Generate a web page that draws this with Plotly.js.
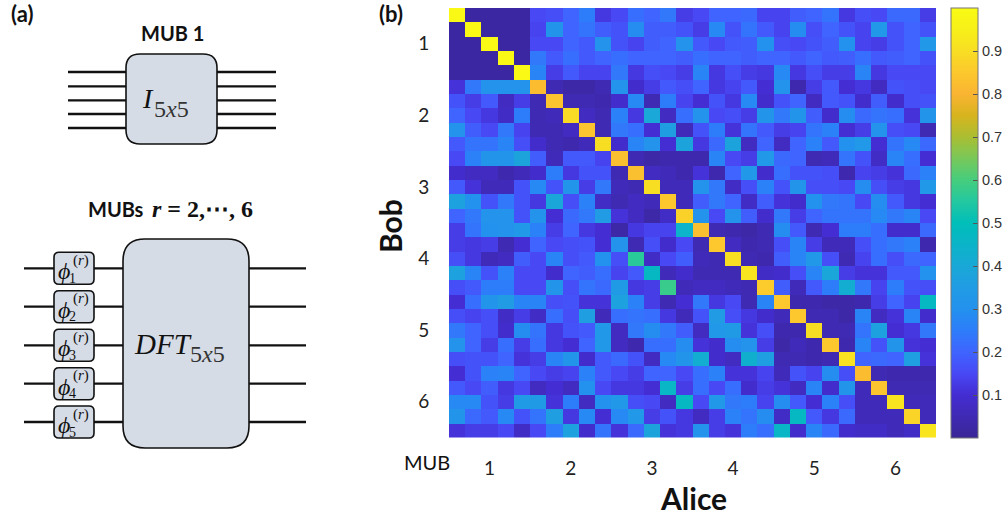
<!DOCTYPE html>
<html>
<head>
<meta charset="utf-8">
<script src="https://cdn.plot.ly/plotly-3.0.1.min.js"></script>
<style>html,body{margin:0;padding:0;background:#fff;overflow:hidden}</style>
</head>
<body>
<div id="chart" style="width:1008px;height:518px"></div>
<script>
const bases = Array.from({length:30},(_,i)=>i+1);
const mubTickVals = [3,8,13,18,23,28];
const mubTickText = ['1','2','3','4','5','6'];
const colorTickVals = [0.1,0.2,0.3,0.4,0.5,0.6,0.7,0.8,0.9];
const colorTickText = ['0.1','0.2','0.3','0.4','0.5','0.6','0.7','0.8','0.9'];

const row01=[.99,.02,.02,.02,.02,.15,.16,.2,.25,.12,.15,.22,.2,.24,.13,.15,.2,.2,.21,.14,.14,.19,.2,.23,.12,.16,.15,.21,.21,.13];
const row02=[.02,.99,.02,.02,.02,.14,.32,.2,.23,.19,.17,.29,.19,.19,.17,.13,.28,.17,.23,.18,.14,.29,.16,.2,.17,.14,.33,.17,.2,.17];
const row03=[.02,.02,.99,.02,.02,.15,.15,.2,.18,.31,.17,.14,.19,.2,.31,.18,.15,.18,.19,.3,.16,.15,.17,.19,.3,.14,.13,.17,.2,.33];
const row04=[.02,.02,.02,.99,.02,.24,.18,.22,.18,.2,.22,.2,.2,.2,.19,.22,.2,.2,.19,.2,.2,.18,.2,.18,.19,.22,.18,.19,.2,.17];
const row05=[.02,.02,.02,.02,.99,.27,.13,.18,.14,.14,.24,.12,.16,.15,.13,.27,.12,.16,.13,.12,.28,.12,.16,.13,.13,.27,.12,.15,.15,.15];
const row06=[.11,.24,.31,.31,.31,.82,.05,.03,.03,.05,.31,.09,.13,.18,.16,.2,.12,.14,.18,.1,.31,.04,.13,.18,.1,.12,.07,.17,.16,.15];
const row07=[.17,.13,.18,.07,.13,.05,.84,.05,.05,.04,.09,.28,.05,.25,.14,.1,.17,.12,.28,.09,.17,.2,.07,.18,.17,.09,.19,.09,.16,.17];
const row08=[.2,.15,.12,.08,.25,.05,.06,.89,.07,.05,.26,.12,.4,.07,.22,.31,.15,.16,.13,.32,.24,.32,.19,.09,.29,.21,.23,.22,.11,.32];
const row09=[.31,.19,.15,.24,.14,.05,.05,.07,.84,.05,.24,.22,.1,.36,.06,.17,.25,.11,.23,.18,.13,.14,.23,.26,.1,.13,.31,.16,.15,.05];
const row10=[.18,.23,.23,.27,.16,.09,.05,.04,.06,.9,.09,.27,.31,.1,.38,.12,.21,.38,.07,.2,.07,.2,.26,.18,.3,.33,.1,.23,.28,.21];
const row11=[.15,.26,.32,.32,.38,.19,.06,.18,.18,.14,.83,.05,.03,.04,.04,.04,.27,.15,.13,.33,.21,.2,.05,.06,.23,.17,.08,.27,.22,.1];
const row12=[.09,.07,.07,.04,.06,.09,.25,.12,.17,.17,.05,.83,.07,.06,.04,.11,.04,.2,.33,.09,.22,.17,.17,.16,.04,.14,.13,.11,.21,.26];
const row13=[.18,.11,.06,.06,.17,.28,.17,.32,.13,.24,.06,.05,.9,.06,.06,.31,.24,.08,.16,.26,.17,.32,.16,.16,.15,.29,.16,.13,.12,.33];
const row14=[.37,.3,.17,.24,.17,.12,.39,.16,.26,.08,.05,.07,.06,.85,.06,.19,.24,.2,.08,.19,.11,.09,.3,.24,.23,.15,.29,.18,.12,.1];
const row15=[.2,.24,.31,.31,.17,.31,.1,.21,.24,.35,.11,.07,.03,.08,.87,.31,.15,.31,.19,.09,.24,.13,.2,.23,.23,.23,.28,.24,.27,.15];
const row16=[.13,.23,.3,.31,.33,.26,.13,.2,.12,.1,.03,.12,.14,.14,.44,.83,.05,.04,.03,.05,.29,.18,.05,.1,.25,.25,.22,.09,.09,.21];
const row17=[.13,.12,.13,.05,.1,.2,.15,.16,.17,.1,.31,.05,.16,.09,.15,.05,.85,.07,.04,.05,.16,.27,.13,.06,.06,.16,.22,.24,.26,.04];
const row18=[.16,.12,.06,.07,.19,.15,.27,.16,.18,.3,.16,.56,.08,.15,.19,.06,.05,.9,.05,.04,.19,.27,.33,.16,.05,.14,.22,.16,.21,.2];
const row19=[.37,.27,.17,.26,.15,.15,.09,.2,.19,.22,.14,.18,.47,.06,.09,.05,.05,.05,.92,.08,.09,.16,.27,.39,.13,.11,.11,.18,.18,.3];
const row20=[.16,.18,.25,.25,.15,.15,.32,.16,.23,.21,.34,.12,.13,.58,.06,.07,.07,.06,.05,.86,.19,.06,.18,.25,.42,.24,.14,.25,.17,.16];
const row21=[.1,.22,.32,.35,.27,.27,.16,.17,.11,.11,.37,.26,.13,.05,.1,.24,.12,.15,.05,.27,.85,.04,.04,.03,.03,.04,.13,.2,.14,.47];
const row22=[.16,.14,.16,.08,.13,.08,.22,.16,.36,.06,.22,.23,.22,.12,.06,.17,.35,.16,.12,.09,.06,.85,.05,.05,.03,.27,.07,.11,.27,.09];
const row23=[.24,.2,.16,.09,.29,.23,.12,.17,.18,.33,.07,.24,.29,.24,.19,.07,.33,.34,.11,.16,.04,.04,.9,.05,.05,.23,.37,.1,.12,.24];
const row24=[.31,.2,.13,.22,.13,.22,.12,.1,.2,.33,.07,.04,.22,.22,.29,.11,.09,.29,.31,.13,.03,.06,.04,.85,.04,.27,.17,.32,.11,.1];
const row25=[.16,.17,.17,.2,.11,.13,.27,.32,.09,.18,.21,.17,.07,.28,.32,.42,.09,.07,.43,.36,.05,.05,.04,.05,.91,.2,.21,.2,.36,.11];
const row26=[.1,.17,.26,.27,.2,.15,.13,.14,.26,.18,.15,.13,.2,.2,.15,.22,.26,.11,.11,.14,.06,.17,.14,.29,.16,.82,.05,.04,.04,.04];
const row27=[.18,.15,.19,.12,.15,.07,.1,.07,.3,.15,.12,.12,.1,.46,.13,.22,.15,.22,.09,.13,.11,.07,.27,.09,.32,.06,.84,.05,.05,.05];
const row28=[.28,.28,.17,.13,.34,.34,.11,.25,.07,.3,.33,.16,.15,.07,.47,.15,.33,.24,.25,.14,.29,.18,.1,.26,.16,.06,.06,.92,.06,.06];
const row29=[.32,.21,.18,.28,.17,.23,.36,.12,.28,.1,.28,.33,.13,.17,.12,.07,.13,.26,.23,.29,.08,.47,.18,.12,.21,.06,.06,.06,.88,.06];
const row30=[.11,.13,.13,.15,.08,.15,.25,.37,.09,.23,.11,.21,.38,.11,.12,.31,.13,.11,.25,.22,.46,.09,.27,.21,.09,.08,.08,.06,.08,.92];

const overlap=[row01,row02,row03,row04,row05,row06,row07,row08,row09,row10,row11,row12,row13,row14,row15,
               row16,row17,row18,row19,row20,row21,row22,row23,row24,row25,row26,row27,row28,row29,row30];

const colourbarColours=[[0,'rgb(58,38,150)'],[0.1,'rgb(68,45,210)'],[0.15,'rgb(72,72,245)'],[0.2,'rgb(63,100,255)'],[0.25,'rgb(45,125,250)'],
[0.3,'rgb(35,145,238)'],[0.35,'rgb(33,156,228)'],[0.4,'rgb(25,168,215)'],[0.45,'rgb(10,180,200)'],[0.5,'rgb(0,190,185)'],
[0.55,'rgb(35,200,160)'],[0.6,'rgb(70,205,125)'],[0.65,'rgb(120,200,90)'],[0.7,'rgb(170,190,50)'],[0.75,'rgb(215,180,30)'],
[0.8,'rgb(250,180,50)'],[0.85,'rgb(252,200,45)'],[0.9,'rgb(248,222,35)'],[0.95,'rgb(247,240,25)'],[1,'rgb(249,251,20)']];

const W=1008,H=518;
const px=x=>x/W, py=y=>1-y/H;
const shapes=[],annotations=[];
function wire(x0,x1,y){shapes.push({type:'line',xref:'paper',yref:'paper',x0:px(x0),x1:px(x1),y0:py(y),y1:py(y),line:{color:'#111',width:2.3}});}
function box(x0,y0,x1,y1,r,w){
  const P=(x,y)=>px(x)+','+py(y);
  const path='M'+P(x0+r,y0)+' L'+P(x1-r,y0)+' Q'+P(x1,y0)+' '+P(x1,y0+r)+' L'+P(x1,y1-r)+' Q'+P(x1,y1)+' '+P(x1-r,y1)+
    ' L'+P(x0+r,y1)+' Q'+P(x0,y1)+' '+P(x0,y1-r)+' L'+P(x0,y0+r)+' Q'+P(x0,y0)+' '+P(x0+r,y0)+' Z';
  shapes.push({type:'path',xref:'paper',yref:'paper',path:path,fillcolor:'#d6dce5',line:{color:'#111',width:w}});
}
function label(text,x,y,size,family,color,angle){
  annotations.push({text:text,xref:'paper',yref:'paper',x:px(x),y:py(y),xanchor:'center',yanchor:'middle',showarrow:false,
    textangle:angle||0,font:{size:size,family:family,color:color||'#111'},borderpad:0,borderwidth:0});
}
const SANS='Lato, sans-serif', MATH='"Liberation Serif", serif';

[72,86.3,100.3,114,128].forEach(y=>{wire(68,126,y);wire(217,276,y);});
box(126,54,217,144,14,1.6);
const rowsY=[268.3,306.7,345.3,383.7,422];
rowsY.forEach(y=>{wire(24,123,y);wire(249,306,y);});
box(123,239,249,448,22,1.6);
rowsY.forEach((y,i)=>{
  box(54,y-16,94,y+16,5,1.6);
  label('<i>ϕ</i>',64,y+3,24,MATH);
  label('(<i>r</i>)',81,y-8,15,MATH);
  label(String(i+1),72,y+10,14,MATH);
});
label('<b>(a)</b>',22,14,22,SANS);
label('<b>(b)</b>',391,14,22,SANS);
label('<b>MUB 1</b>',172,33,20,SANS);
label('<i>I</i>',148,99,28,MATH);
label('5<i>x</i>5',171,109,24,MATH,'#333');
label('<b>MUBs</b>',115.5,209,20,SANS);
label('<b><i>r</i> = 2,⋯, 6</b>',202,209,24,MATH);
label('<i>DFT</i>',163,344,29,MATH);
label('5<i>x</i>5',207.5,354,24,MATH,'#333');
label('MUB',426.5,462,20,SANS);
label('<b>Bob</b>',390,226,30,SANS,'#111',-90);
label('<b>Alice</b>',693,498,30,SANS);

const trace={type:'heatmap',x:bases,y:bases,z:overlap,zmin:0,zmax:1,colorscale:colourbarColours,hoverinfo:'skip',
  colorbar:{thickness:27,thicknessmode:'pixels',len:429.5/H,lenmode:'fraction',x:951/W,xanchor:'left',xpad:0,ypad:0,y:py(8),yanchor:'top',
    outlinecolor:'#777',outlinewidth:1,tickmode:'array',tickvals:colorTickVals,ticktext:colorTickText,ticks:'inside',ticklen:5,tickcolor:'#555',tickwidth:1,
    tickfont:{family:'"Liberation Sans", Arial, sans-serif',size:14.5,color:'#333'}}};

const layout={width:W,height:H,margin:{l:0,r:0,t:0,b:0},paper_bgcolor:'#fff',plot_bgcolor:'#fff',showlegend:false,
  xaxis:{domain:[449/W,936/W],range:[0.5,30.5],tickmode:'array',tickvals:mubTickVals,ticktext:mubTickText,ticks:'outside',ticklen:14,tickcolor:'rgba(0,0,0,0)',
    showgrid:false,zeroline:false,showline:false,tickfont:{family:SANS,size:19,color:'#222'}},
  yaxis:{domain:[py(437.5),py(8)],range:[30.5,0.5],tickmode:'array',tickvals:mubTickVals,ticktext:mubTickText,ticks:'outside',ticklen:15,tickcolor:'rgba(0,0,0,0)',
    showgrid:false,zeroline:false,showline:false,tickfont:{family:SANS,size:19,color:'#222'}},
  shapes:shapes,annotations:annotations};
Plotly.newPlot('chart',[trace],layout,{displayModeBar:false,staticPlot:true});
</script>
</body>
</html>
